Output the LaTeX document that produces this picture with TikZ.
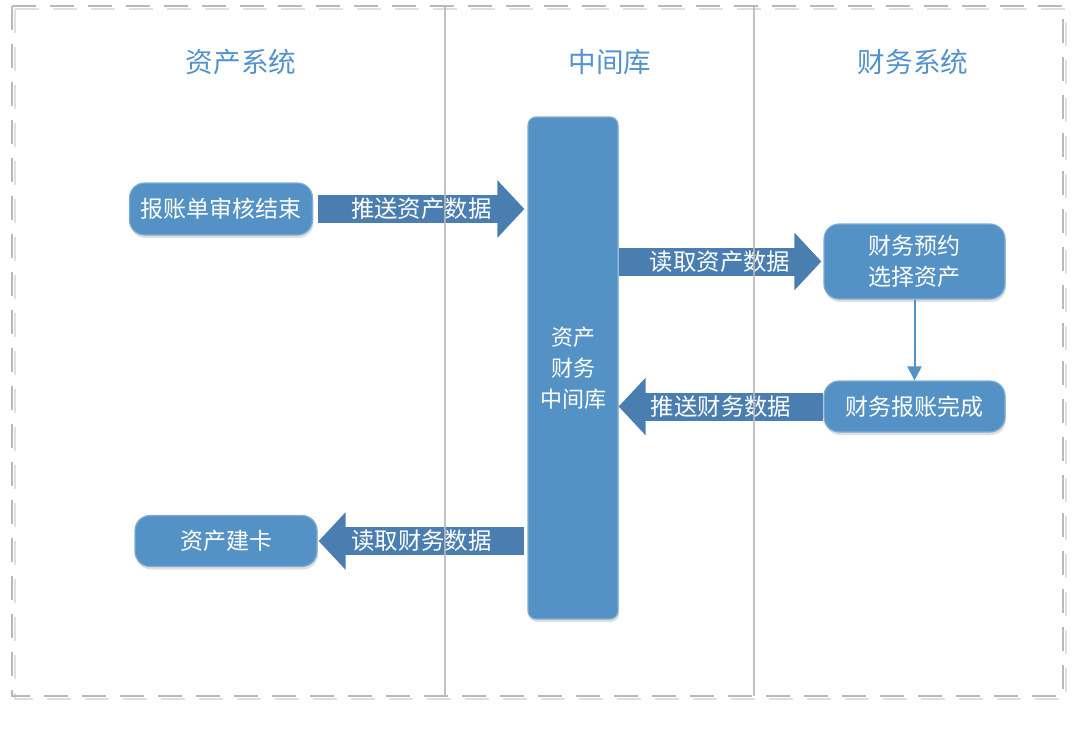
\documentclass[tikz,border=0pt]{standalone}
\usepackage{fontspec}
\newfontfamily\cjk{Noto Sans CJK SC}
\usetikzlibrary{arrows.meta,shadows}
\definecolor{boxblue}{RGB}{84,146,198}
\definecolor{arrowblue}{RGB}{74,126,176}
\definecolor{titleblue}{RGB}{83,146,204}
\definecolor{lanegray}{RGB}{185,185,185}
\begin{document}
\begin{tikzpicture}[x=0.5pt,y=-0.5pt,
    lane/.style={draw=lanegray,line width=1pt},
    title/.style={text=titleblue,font=\cjk\fontsize{13.8}{16}\selectfont},
    stepbox/.style={rounded corners=7.5pt,fill=boxblue,draw=boxblue!75!white,line width=0.6pt,
      text=white,font=\cjk\fontsize{11.5}{15.5}\selectfont,align=center,inner sep=0pt,
      drop shadow={opacity=0.25,shadow xshift=0.5pt,shadow yshift=-1.5pt}},
    fatarrow/.style={draw=arrowblue,line width=14pt,-{Triangle[length=13.5pt,width=28pt]}},
    arrowtext/.style={text=white,font=\cjk\fontsize{11.7}{14}\selectfont}]
  \useasboundingbox (0,0) rectangle (1080,729);
  \draw [lanegray!45,line width=1.2pt,dash pattern=on 12pt off 7pt] (15,9) rectangle (1066,699); % frame shadow
  \draw [lane,dash pattern=on 12pt off 7pt] (12,6) rectangle (1063,696); % frame
  \node [title] (assetsys) at (241,62) {资产系统}; % lane titles
  \node [title] (middb) at (610,62) {中间库};
  \node [title] (finsys) at (913,62) {财务系统};
  \node [stepbox,minimum width=91.5pt,minimum height=26pt] (audit) at (221,209) {报账单审核结束};
  \node [stepbox,rounded corners=4pt,minimum width=45pt,minimum height=251pt,font=\cjk\fontsize{11}{15.5}\selectfont] (mid) at (573,368) {资产\\财务\\中间库}; % middle store
  \node [stepbox,minimum width=90.5pt,minimum height=37.5pt] (book) at (914.5,261.5) {财务预约\\选择资产};
  \node [stepbox,minimum width=90.5pt,minimum height=25.5pt] (claim) at (914.5,406.5) {财务报账完成};
  \node [stepbox,minimum width=91pt,minimum height=25.5pt] (card) at (226,541) {资产建卡};
  \draw [fatarrow] ([xshift=2.5pt]audit.east) -- ([xshift=-1.5pt]audit.east -| mid.west) node [midway,arrowtext] {推送资产数据}; % push assets
  \draw [fatarrow] (mid.east |- book.west) -- ([xshift=-1pt]book.west) node [midway,arrowtext] {读取资产数据}; % read assets
  \draw [fatarrow] (claim.west) -- (mid.east |- claim.west) node [midway,arrowtext] {推送财务数据}; % push finance
  \draw [fatarrow] ([xshift=-1.5pt]mid.west |- card.east) -- ([xshift=0.5pt]card.east) node [midway,arrowtext] {读取财务数据}; % read finance
  \draw [-{Triangle[length=7pt,width=7pt]},boxblue,line width=1pt] (book.south) -- (claim.north); % book -> claim
  \draw [lane,opacity=0.85] (445,6) -- (445,696); % lane dividers
  \draw [lane,opacity=0.85] (754,6) -- (754,696);
\end{tikzpicture}
\end{document}
